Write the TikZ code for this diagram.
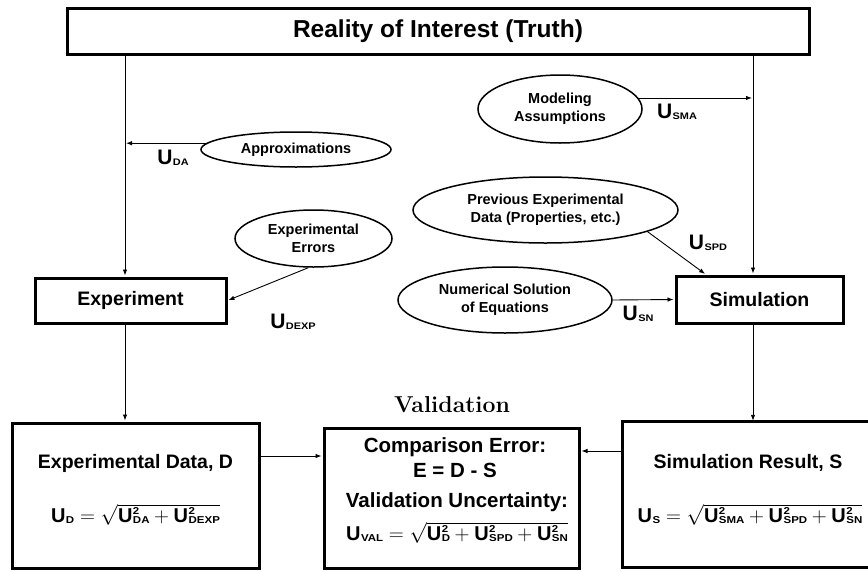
\documentclass[tikz,border=0pt]{standalone}
\usepackage{fontspec}
\newfontfamily\arial{Liberation Sans}
\newfontfamily\arialwide[FakeStretch=1.15]{Liberation Sans}
\usetikzlibrary{shapes.geometric,arrows.meta}
\newcommand\myscr{\arialwide\bfseries\fontsize{10}{10}\selectfont}
\newcommand\uBase[1]{U\kern0.5pt\raisebox{-0.5pt}{\myscr #1}}
\newcommand\uSq[1]{U\kern0.5pt\rlap{\raisebox{8pt}{\myscr 2}}\raisebox{-0.5pt}{\myscr #1}}
\newcommand\uLab[1]{U\kern0.5pt\raisebox{-0.5pt}{\arialwide\bfseries\fontsize{9.5}{9.5}\selectfont #1}}
\begin{document}
\begin{tikzpicture}[x=1pt,y=-1pt,
  thickbox/.style={draw, rectangle, line width=3pt, inner sep=0pt, line join=miter},
  ell/.style={draw, ellipse, line width=1.5pt, inner sep=0pt, align=center,
    font=\arial\bfseries\fontsize{14.5}{18}\selectfont},
  arr/.style={line width=0.9pt, -{Latex[length=6pt,width=4.5pt]}, shorten >=1pt},
  lab/.style={inner sep=0pt, font=\arial\bfseries\fontsize{21}{21}\selectfont},
  btxt/.style={inner sep=0pt, align=center, font=\arial\bfseries\fontsize{19.5}{22}\selectfont},
  vtxt/.style={inner sep=0pt, align=center, font=\arial\bfseries\fontsize{20.5}{23}\selectfont},
  ftxt/.style={inner sep=0pt, font=\arial\bfseries\fontsize{20}{24}\selectfont}]
\useasboundingbox (0,0) rectangle (868,571);
% boxes
\node[thickbox, minimum width=742pt, minimum height=46pt,
  font=\arial\bfseries\fontsize{24.5}{28}\selectfont] (top) at (438,31) {Reality of Interest (Truth)};
\node[thickbox, minimum width=191pt, minimum height=45pt,
  font=\arial\bfseries\fontsize{19.5}{22}\selectfont] (exp) at (130.5,300.5) {Experiment};
\node[thickbox, minimum width=167pt, minimum height=47pt,
  font=\arial\bfseries\fontsize{19.5}{22}\selectfont] (sim) at (759.5,299.5) {Simulation};
\node[thickbox, minimum width=247pt, minimum height=145pt] (expdata) at (135.5,495.5) {};
\node[thickbox, minimum width=255pt, minimum height=140pt] (val) at (451.5,498) {};
\node[rectangle, inner sep=0pt, minimum width=250pt, minimum height=145pt] (simres) at (748,494.5) {};
\coordinate (E) at (868,0);
\draw[line width=3pt, line join=miter] (simres.north -| E) -- (simres.north west)
  -- (simres.south west) -- (simres.south -| E);
% ellipses
\node[ell, minimum width=190pt, minimum height=35pt] (approx) at (296,149.5) {Approximations};
\node[ell, minimum width=164pt, minimum height=68pt] (mod) at (560,109) {Modeling\\Assumptions};
\node[ell, minimum width=265pt, minimum height=66pt] (prev) at (545.5,210) {Previous Experimental\\Data (Properties, etc.)};
\node[ell, minimum width=214pt, minimum height=66pt] (num) at (505,300) {Numerical Solution\\of Equations};
\node[ell, minimum width=157pt, minimum height=57pt] (errs) at (313.5,238.5) {Experimental\\Errors};
% labels
\node[lab] (lda) at (173,158) {\uLab{DA}};
\node[lab] (lsma) at (677,112) {\uLab{SMA}};
\node[lab] (ldexp) at (293,322) {\uLab{DEXP}};
\node[lab] (lspd) at (708,243) {\uLab{SPD}};
\node[lab] (lsn) at (638,314) {\uLab{SN}};
% texts in bottom boxes
\node[btxt] (edt) at (135.5,463) {Experimental Data, D};
\node[ftxt] (edf) at (135.5,515) {$\mbox{\uBase{D}} = \sqrt{\mbox{\uSq{DA}} + \mbox{\uSq{DEXP}}}$};
\node[btxt] (srt) at (748,463) {Simulation Result, S};
\node[ftxt] (srf) at (750,515) {$\mbox{\uBase{S}} = \sqrt{\mbox{\uSq{SMA}} + \mbox{\uSq{SPD}} + \mbox{\uSq{SN}}}$};
\node[vtxt] (v1) at (455,447) {Comparison Error:};
\node[vtxt] (v2) at (455,470) {E = D - S};
\node[vtxt] (v3) at (457,502) {Validation Uncertainty:};
\node[ftxt] (v4) at (457,533) {$\mbox{\uBase{VAL}} = \sqrt{\mbox{\uSq{D}} + \mbox{\uSq{SPD}} + \mbox{\uSq{SN}}}$};
\node[inner sep=0pt, font=\bfseries\fontsize{23}{26}\selectfont] (vh) at (452,405) {Validation};
% connectors
\coordinate (L) at (125,0);
\coordinate (R) at (753,0);
\coordinate (ya) at (0,456);
\coordinate (yb) at (0,451);
\draw[arr] (top.south -| L) -- (exp.north -| L);
\draw[arr] (exp.south -| L) -- (expdata.north -| L);
\draw[arr] (top.south -| R) -- (sim.north -| R);
\draw[arr] (sim.south -| R) -- (simres.north -| R);
\draw[arr] (approx.176) -- (approx.176 -| L);
\draw[arr] (mod.8) -- (mod.8 -| R);
\draw[arr] (errs.-100) -- (exp.east);
\draw[arr] (prev.-12) -- (sim.155);
\draw[arr] (num.east) -- (sim.west);
\draw[arr] (expdata.east |- ya) -- (val.west |- ya);
\draw[arr] (simres.west |- yb) -- (val.east |- yb);
\end{tikzpicture}
\end{document}
